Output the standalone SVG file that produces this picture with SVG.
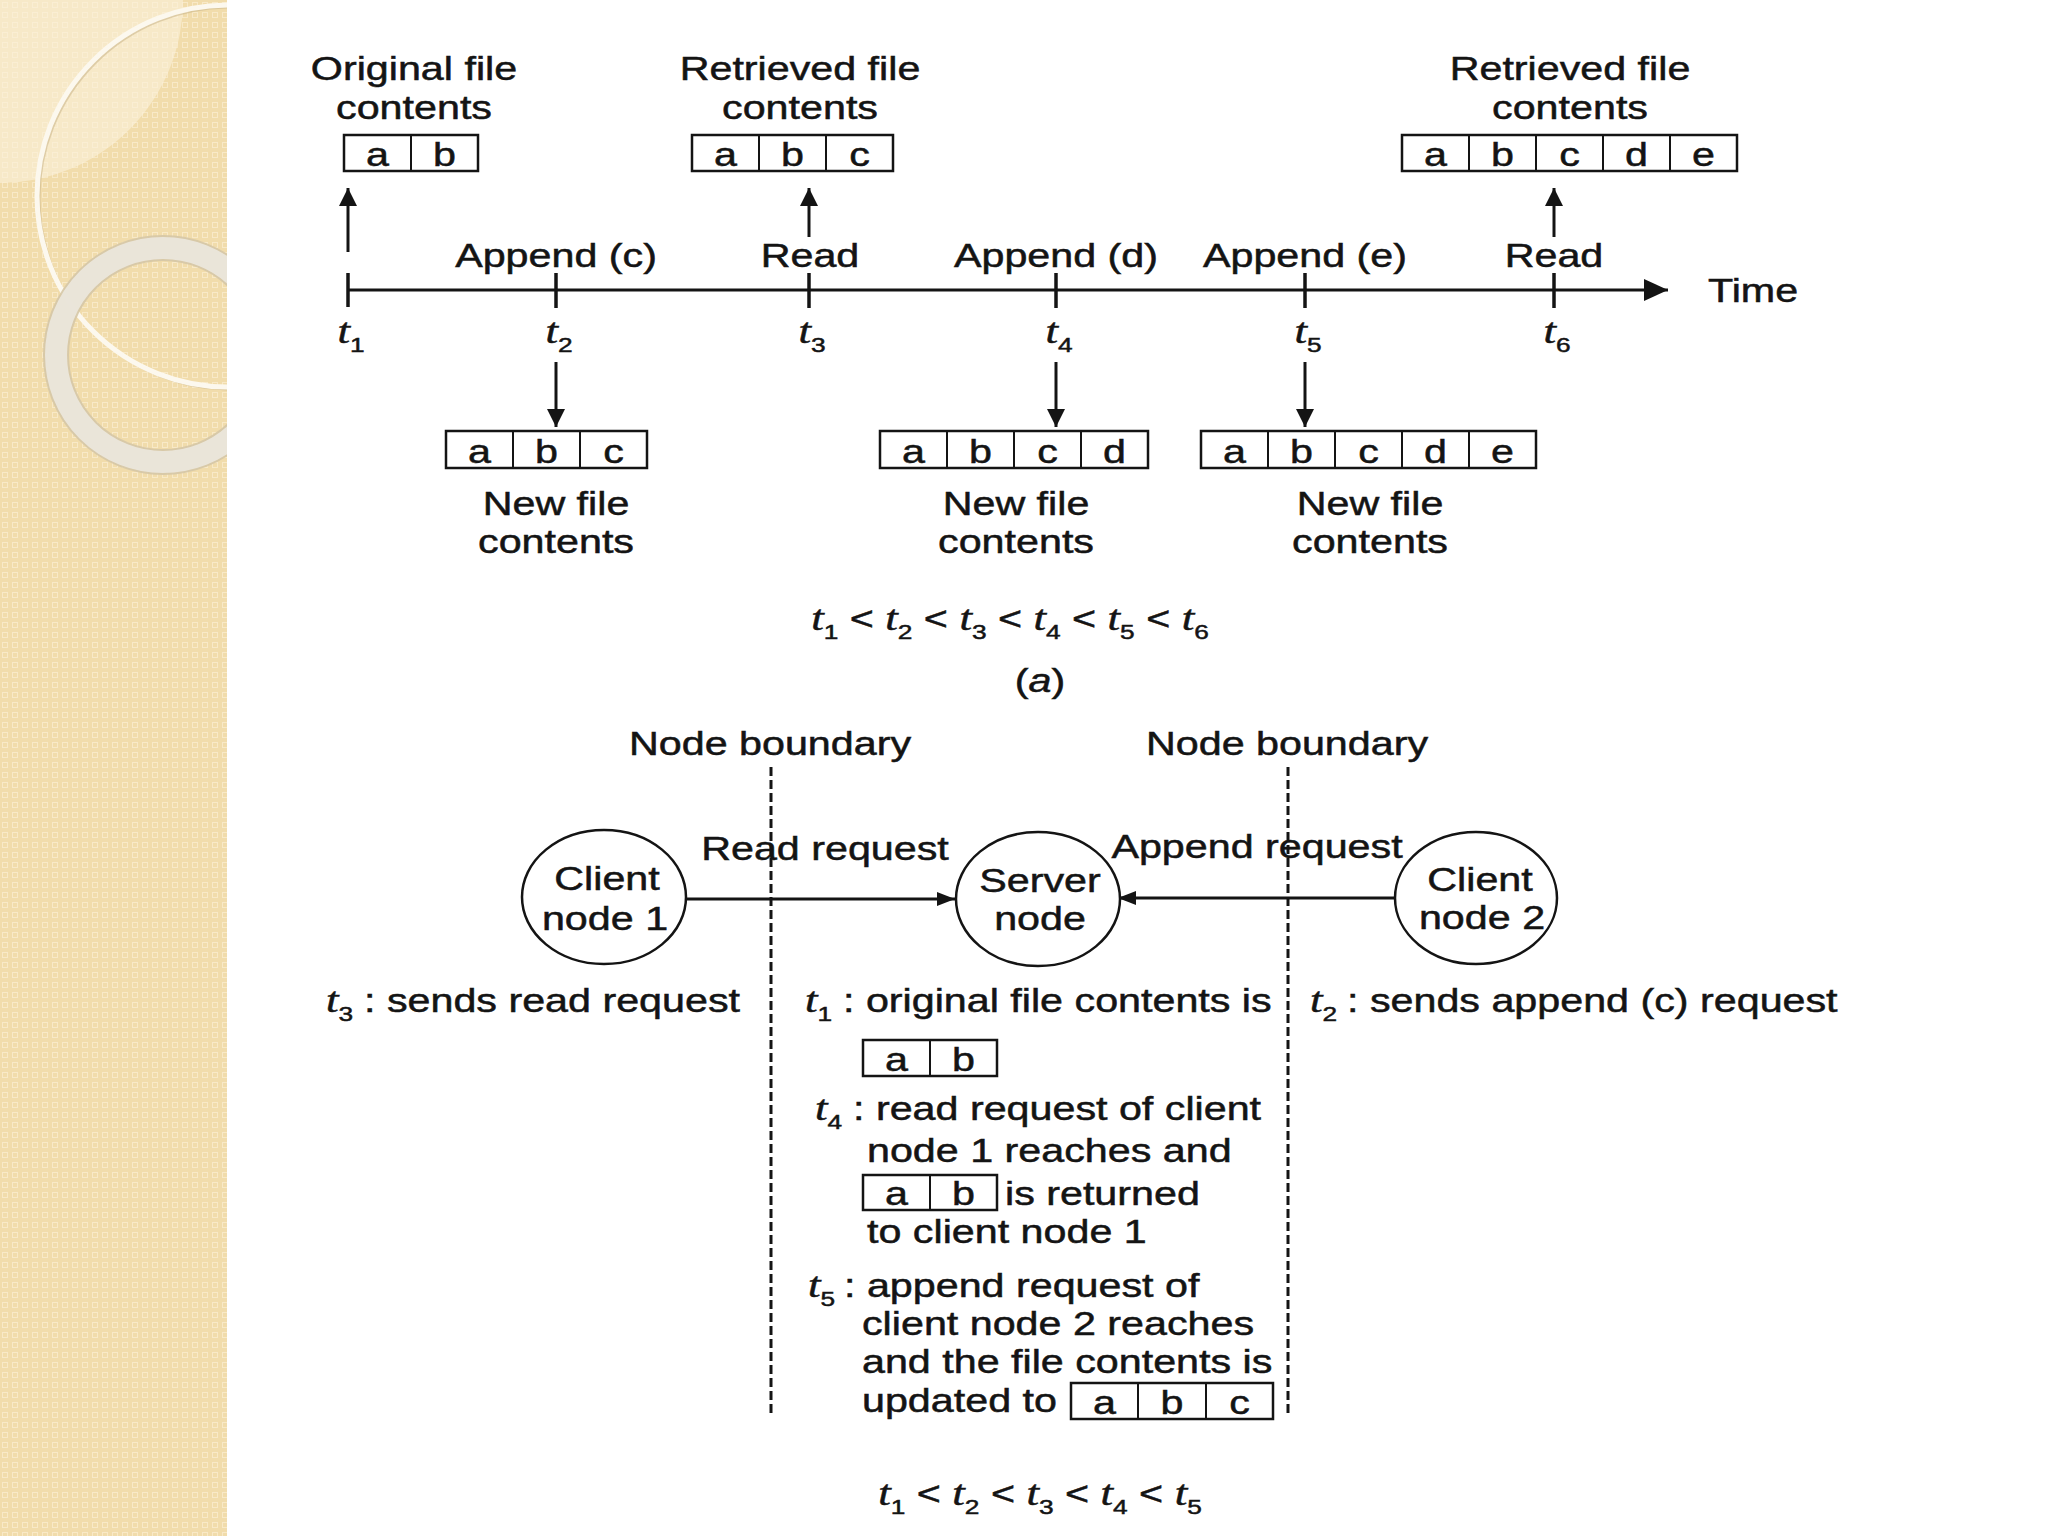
<svg xmlns="http://www.w3.org/2000/svg" width="2048" height="1536" viewBox="0 0 2048 1536">
<defs>
<style>
.t{font-family:"Liberation Sans",Arial,Helvetica,sans-serif;font-size:33px;fill:#141414;stroke:#141414;stroke-width:0.5}
.it{font-family:"Liberation Serif","Times New Roman",serif;font-style:italic;font-size:36px}
.sb{font-size:21px}
.cell{fill:#fff;stroke:#141414;stroke-width:2.5}
.div{stroke:#141414;stroke-width:2}
.ln{stroke:#141414;stroke-width:3;fill:none}
.tick{stroke:#141414;stroke-width:3.5}
.node{fill:#fff;stroke:#141414;stroke-width:2.5}
.bnd{stroke:#141414;stroke-width:3;stroke-dasharray:9 4;fill:none}
</style>
<pattern id="pat" width="10" height="10" patternUnits="userSpaceOnUse">
<rect width="10" height="10" fill="#f1dcab"/>
<rect x="2.5" y="2.5" width="5" height="5" fill="none" stroke="#f8e9c8" stroke-width="1"/>
</pattern>
<clipPath id="sideClip"><rect x="0" y="0" width="227" height="1536"/></clipPath>
<marker id="ah" viewBox="0 0 10 10" refX="10" refY="5" markerWidth="18" markerHeight="18" markerUnits="userSpaceOnUse" orient="auto"><path d="M0,0 L10,5 L0,10 z" fill="#141414"/></marker>
<marker id="ahBig" viewBox="0 0 10 10" refX="10" refY="5" markerWidth="24" markerHeight="22" markerUnits="userSpaceOnUse" orient="auto" preserveAspectRatio="none"><path d="M0,0 L10,5 L0,10 z" fill="#141414"/></marker>
<marker id="ahSm" viewBox="0 0 10 10" refX="10" refY="5" markerWidth="18" markerHeight="14" markerUnits="userSpaceOnUse" orient="auto" preserveAspectRatio="none"><path d="M0,0 L10,5 L0,10 z" fill="#141414"/></marker>
</defs>

<rect x="0" y="0" width="2048" height="1536" fill="#ffffff"/>

<g id="sidebar" clip-path="url(#sideClip)">
<rect x="0" y="0" width="227" height="1536" fill="url(#pat)"/>
<circle cx="0" cy="0" r="183" fill="#fbf1dc" opacity="0.6"/>
<circle cx="230" cy="198" r="191" fill="none" stroke="#cdb98e" stroke-width="3" opacity="0.6"/>
<circle cx="228" cy="196" r="191" fill="none" stroke="#fcf8ee" stroke-width="5"/>
<circle cx="163" cy="355" r="107" fill="none" stroke="#d5c7a6" stroke-width="26" opacity="0.9"/>
<circle cx="163" cy="355" r="107" fill="none" stroke="#ece7dd" stroke-width="22" opacity="0.92"/>
</g>

<g id="connectors">
<line class="ln" x1="348" y1="290" x2="1668" y2="290" stroke-width="5" marker-end="url(#ahBig)"/>
<line class="tick" x1="348" y1="273" x2="348" y2="307"/>
<line class="tick" x1="556" y1="273" x2="556" y2="308"/>
<line class="tick" x1="809" y1="273" x2="809" y2="308"/>
<line class="tick" x1="1056" y1="273" x2="1056" y2="308"/>
<line class="tick" x1="1305" y1="273" x2="1305" y2="308"/>
<line class="tick" x1="1554" y1="273" x2="1554" y2="308"/>
<line class="ln" x1="348" y1="252" x2="348" y2="188" marker-end="url(#ah)"/>
<line class="ln" x1="809" y1="237" x2="809" y2="188" marker-end="url(#ah)"/>
<line class="ln" x1="1554" y1="237" x2="1554" y2="188" marker-end="url(#ah)"/>
<line class="ln" x1="556" y1="362" x2="556" y2="427" marker-end="url(#ah)"/>
<line class="ln" x1="1056" y1="362" x2="1056" y2="427" marker-end="url(#ah)"/>
<line class="ln" x1="1305" y1="362" x2="1305" y2="427" marker-end="url(#ah)"/>
<line class="bnd" x1="771" y1="767" x2="771" y2="1413"/>
<line class="bnd" x1="1288" y1="767" x2="1288" y2="1413"/>
<line class="ln" x1="687" y1="899" x2="955" y2="899" stroke-width="2.5" marker-end="url(#ahSm)"/>
<line class="ln" x1="1395" y1="898" x2="1118" y2="898" stroke-width="2.5" marker-end="url(#ahSm)"/>
</g>

<g id="timeline-labels">
<text class="t" transform="translate(414 80) scale(1.25 1)" text-anchor="middle">Original file</text>
<text class="t" transform="translate(414 119) scale(1.25 1)" text-anchor="middle">contents</text>
<text class="t" transform="translate(800 80) scale(1.25 1)" text-anchor="middle">Retrieved file</text>
<text class="t" transform="translate(800 119) scale(1.25 1)" text-anchor="middle">contents</text>
<text class="t" transform="translate(1570 80) scale(1.25 1)" text-anchor="middle">Retrieved file</text>
<text class="t" transform="translate(1570 119) scale(1.25 1)" text-anchor="middle">contents</text>
<text class="t" transform="translate(556 267) scale(1.25 1)" text-anchor="middle">Append (c)</text>
<text class="t" transform="translate(810 267) scale(1.25 1)" text-anchor="middle">Read</text>
<text class="t" transform="translate(1056 267) scale(1.25 1)" text-anchor="middle">Append (d)</text>
<text class="t" transform="translate(1305 267) scale(1.25 1)" text-anchor="middle">Append (e)</text>
<text class="t" transform="translate(1554 267) scale(1.25 1)" text-anchor="middle">Read</text>
<text class="t" transform="translate(1708 302) scale(1.25 1)">Time</text>
<text class="t" transform="translate(351 343) scale(1.25 1)" text-anchor="middle"><tspan class="it">t</tspan><tspan class="sb" dy="9">1</tspan></text>
<text class="t" transform="translate(559 343) scale(1.25 1)" text-anchor="middle"><tspan class="it">t</tspan><tspan class="sb" dy="9">2</tspan></text>
<text class="t" transform="translate(812 343) scale(1.25 1)" text-anchor="middle"><tspan class="it">t</tspan><tspan class="sb" dy="9">3</tspan></text>
<text class="t" transform="translate(1059 343) scale(1.25 1)" text-anchor="middle"><tspan class="it">t</tspan><tspan class="sb" dy="9">4</tspan></text>
<text class="t" transform="translate(1308 343) scale(1.25 1)" text-anchor="middle"><tspan class="it">t</tspan><tspan class="sb" dy="9">5</tspan></text>
<text class="t" transform="translate(1557 343) scale(1.25 1)" text-anchor="middle"><tspan class="it">t</tspan><tspan class="sb" dy="9">6</tspan></text>
<text class="t" transform="translate(556 515) scale(1.25 1)" text-anchor="middle">New file</text>
<text class="t" transform="translate(556 553) scale(1.25 1)" text-anchor="middle">contents</text>
<text class="t" transform="translate(1016 515) scale(1.25 1)" text-anchor="middle">New file</text>
<text class="t" transform="translate(1016 553) scale(1.25 1)" text-anchor="middle">contents</text>
<text class="t" transform="translate(1370 515) scale(1.25 1)" text-anchor="middle">New file</text>
<text class="t" transform="translate(1370 553) scale(1.25 1)" text-anchor="middle">contents</text>
<text class="t" transform="translate(1010 630) scale(1.25 1)" text-anchor="middle"><tspan class="it">t</tspan><tspan class="sb" dy="9">1</tspan><tspan dy="-9"> &lt; </tspan><tspan class="it">t</tspan><tspan class="sb" dy="9">2</tspan><tspan dy="-9"> &lt; </tspan><tspan class="it">t</tspan><tspan class="sb" dy="9">3</tspan><tspan dy="-9"> &lt; </tspan><tspan class="it">t</tspan><tspan class="sb" dy="9">4</tspan><tspan dy="-9"> &lt; </tspan><tspan class="it">t</tspan><tspan class="sb" dy="9">5</tspan><tspan dy="-9"> &lt; </tspan><tspan class="it">t</tspan><tspan class="sb" dy="9">6</tspan></text>
<text class="t" transform="translate(1040 692) scale(1.25 1)" text-anchor="middle">(<tspan font-style="italic">a</tspan>)</text>
</g>

<g id="box-original">
<rect class="cell" x="344" y="135" width="134" height="36"/>
<line class="div" x1="411" y1="135" x2="411" y2="171"/>
<text class="t" transform="translate(377.5 166) scale(1.25 1)" text-anchor="middle">a</text>
<text class="t" transform="translate(444.5 166) scale(1.25 1)" text-anchor="middle">b</text>
</g>
<g id="box-retrieved-t3">
<rect class="cell" x="692" y="135" width="201" height="36"/>
<line class="div" x1="759" y1="135" x2="759" y2="171"/>
<line class="div" x1="826" y1="135" x2="826" y2="171"/>
<text class="t" transform="translate(725.5 166) scale(1.25 1)" text-anchor="middle">a</text>
<text class="t" transform="translate(792.5 166) scale(1.25 1)" text-anchor="middle">b</text>
<text class="t" transform="translate(859.5 166) scale(1.25 1)" text-anchor="middle">c</text>
</g>
<g id="box-retrieved-t6">
<rect class="cell" x="1402" y="135" width="335" height="36"/>
<line class="div" x1="1469" y1="135" x2="1469" y2="171"/>
<line class="div" x1="1536" y1="135" x2="1536" y2="171"/>
<line class="div" x1="1603" y1="135" x2="1603" y2="171"/>
<line class="div" x1="1670" y1="135" x2="1670" y2="171"/>
<text class="t" transform="translate(1435.5 166) scale(1.25 1)" text-anchor="middle">a</text>
<text class="t" transform="translate(1502.5 166) scale(1.25 1)" text-anchor="middle">b</text>
<text class="t" transform="translate(1569.5 166) scale(1.25 1)" text-anchor="middle">c</text>
<text class="t" transform="translate(1636.5 166) scale(1.25 1)" text-anchor="middle">d</text>
<text class="t" transform="translate(1703.5 166) scale(1.25 1)" text-anchor="middle">e</text>
</g>
<g id="box-new-t2">
<rect class="cell" x="446" y="431" width="201" height="37"/>
<line class="div" x1="513" y1="431" x2="513" y2="468"/>
<line class="div" x1="580" y1="431" x2="580" y2="468"/>
<text class="t" transform="translate(479.5 463) scale(1.25 1)" text-anchor="middle">a</text>
<text class="t" transform="translate(546.5 463) scale(1.25 1)" text-anchor="middle">b</text>
<text class="t" transform="translate(613.5 463) scale(1.25 1)" text-anchor="middle">c</text>
</g>
<g id="box-new-t4">
<rect class="cell" x="880" y="431" width="268" height="37"/>
<line class="div" x1="947" y1="431" x2="947" y2="468"/>
<line class="div" x1="1014" y1="431" x2="1014" y2="468"/>
<line class="div" x1="1081" y1="431" x2="1081" y2="468"/>
<text class="t" transform="translate(913.5 463) scale(1.25 1)" text-anchor="middle">a</text>
<text class="t" transform="translate(980.5 463) scale(1.25 1)" text-anchor="middle">b</text>
<text class="t" transform="translate(1047.5 463) scale(1.25 1)" text-anchor="middle">c</text>
<text class="t" transform="translate(1114.5 463) scale(1.25 1)" text-anchor="middle">d</text>
</g>
<g id="box-new-t5">
<rect class="cell" x="1201" y="431" width="335" height="37"/>
<line class="div" x1="1268" y1="431" x2="1268" y2="468"/>
<line class="div" x1="1335" y1="431" x2="1335" y2="468"/>
<line class="div" x1="1402" y1="431" x2="1402" y2="468"/>
<line class="div" x1="1469" y1="431" x2="1469" y2="468"/>
<text class="t" transform="translate(1234.5 463) scale(1.25 1)" text-anchor="middle">a</text>
<text class="t" transform="translate(1301.5 463) scale(1.25 1)" text-anchor="middle">b</text>
<text class="t" transform="translate(1368.5 463) scale(1.25 1)" text-anchor="middle">c</text>
<text class="t" transform="translate(1435.5 463) scale(1.25 1)" text-anchor="middle">d</text>
<text class="t" transform="translate(1502.5 463) scale(1.25 1)" text-anchor="middle">e</text>
</g>

<g id="boundary-labels">
<text class="t" transform="translate(770 755) scale(1.25 1)" text-anchor="middle">Node boundary</text>
<text class="t" transform="translate(1287 755) scale(1.25 1)" text-anchor="middle">Node boundary</text>
<text class="t" transform="translate(825 860) scale(1.25 1)" text-anchor="middle">Read request</text>
<text class="t" transform="translate(1257 858) scale(1.25 1)" text-anchor="middle">Append request</text>
</g>

<g id="client-node-1">
<ellipse class="node" cx="604" cy="897" rx="82" ry="67"/>
<text class="t" transform="translate(607 890) scale(1.25 1)" text-anchor="middle">Client</text>
<text class="t" transform="translate(605 930) scale(1.25 1)" text-anchor="middle">node 1</text>
</g>
<g id="server-node">
<ellipse class="node" cx="1038" cy="899" rx="82" ry="67"/>
<text class="t" transform="translate(1040 892) scale(1.25 1)" text-anchor="middle">Server</text>
<text class="t" transform="translate(1040 930) scale(1.25 1)" text-anchor="middle">node</text>
</g>
<g id="client-node-2">
<ellipse class="node" cx="1476" cy="898" rx="81" ry="66"/>
<text class="t" transform="translate(1480 891) scale(1.25 1)" text-anchor="middle">Client</text>
<text class="t" transform="translate(1482 929) scale(1.25 1)" text-anchor="middle">node 2</text>
</g>

<g id="client1-notes">
<text class="t" transform="translate(326 1012) scale(1.25 1)"><tspan class="it">t</tspan><tspan class="sb" dy="9">3</tspan></text>
<text class="t" transform="translate(364 1012) scale(1.25 1)">: sends read request</text>
</g>
<g id="client2-notes">
<text class="t" transform="translate(1310 1012) scale(1.25 1)"><tspan class="it">t</tspan><tspan class="sb" dy="9">2</tspan></text>
<text class="t" transform="translate(1347 1012) scale(1.25 1)">: sends append (c) request</text>
</g>
<g id="server-notes">
<text class="t" transform="translate(805 1012) scale(1.25 1)"><tspan class="it">t</tspan><tspan class="sb" dy="9">1</tspan></text>
<text class="t" transform="translate(843 1012) scale(1.25 1)">: original file contents is</text>
<text class="t" transform="translate(815 1120) scale(1.25 1)"><tspan class="it">t</tspan><tspan class="sb" dy="9">4</tspan></text>
<text class="t" transform="translate(853 1120) scale(1.25 1)">: read request of client</text>
<text class="t" transform="translate(867 1162) scale(1.25 1)">node 1 reaches and</text>
<text class="t" transform="translate(1005 1205) scale(1.25 1)">is returned</text>
<text class="t" transform="translate(867 1243) scale(1.25 1)">to client node 1</text>
<text class="t" transform="translate(808 1297) scale(1.25 1)"><tspan class="it">t</tspan><tspan class="sb" dy="9">5</tspan></text>
<text class="t" transform="translate(844 1297) scale(1.25 1)">: append request of</text>
<text class="t" transform="translate(862 1335) scale(1.25 1)">client node 2 reaches</text>
<text class="t" transform="translate(862 1373) scale(1.25 1)">and the file contents is</text>
<text class="t" transform="translate(862 1412) scale(1.25 1)">updated to</text>
</g>
<g id="box-server-1">
<rect class="cell" x="863" y="1040" width="134" height="36"/>
<line class="div" x1="930" y1="1040" x2="930" y2="1076"/>
<text class="t" transform="translate(896.5 1071) scale(1.25 1)" text-anchor="middle">a</text>
<text class="t" transform="translate(963.5 1071) scale(1.25 1)" text-anchor="middle">b</text>
</g>
<g id="box-server-2">
<rect class="cell" x="863" y="1175" width="134" height="35"/>
<line class="div" x1="930" y1="1175" x2="930" y2="1210"/>
<text class="t" transform="translate(896.5 1205) scale(1.25 1)" text-anchor="middle">a</text>
<text class="t" transform="translate(963.5 1205) scale(1.25 1)" text-anchor="middle">b</text>
</g>
<g id="box-server-3">
<rect class="cell" x="1071" y="1383" width="202" height="36"/>
<line class="div" x1="1138" y1="1383" x2="1138" y2="1419"/>
<line class="div" x1="1206" y1="1383" x2="1206" y2="1419"/>
<text class="t" transform="translate(1104.5 1414) scale(1.25 1)" text-anchor="middle">a</text>
<text class="t" transform="translate(1172 1414) scale(1.25 1)" text-anchor="middle">b</text>
<text class="t" transform="translate(1239.5 1414) scale(1.25 1)" text-anchor="middle">c</text>
</g>

<g id="order-b">
<text class="t" transform="translate(1040 1505) scale(1.25 1)" text-anchor="middle"><tspan class="it">t</tspan><tspan class="sb" dy="9">1</tspan><tspan dy="-9"> &lt; </tspan><tspan class="it">t</tspan><tspan class="sb" dy="9">2</tspan><tspan dy="-9"> &lt; </tspan><tspan class="it">t</tspan><tspan class="sb" dy="9">3</tspan><tspan dy="-9"> &lt; </tspan><tspan class="it">t</tspan><tspan class="sb" dy="9">4</tspan><tspan dy="-9"> &lt; </tspan><tspan class="it">t</tspan><tspan class="sb" dy="9">5</tspan></text>
</g>
</svg>
